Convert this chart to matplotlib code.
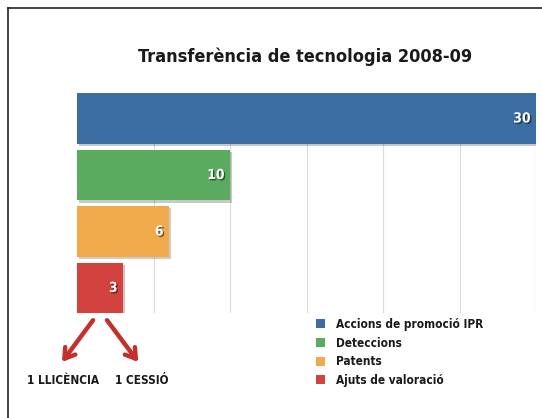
import numpy as np
import matplotlib
matplotlib.use("Agg")
import matplotlib.pyplot as plt
import matplotlib.patheffects as pe
from matplotlib.patches import Patch
from matplotlib.lines import Line2D

# Dades
categories = ["Accions de promoció IPR", "Deteccions", "Patents", "Ajuts de valoració"]
values = [30, 10, 6, 3]
colors = ["#3b6da3", "#5aab5f", "#f0aa4c", "#d2423f"]
title = "Transferència de tecnologia 2008-09"
sub_labels = ["1 LLICÈNCIA", "1 CESSIÓ"]

plt.rcParams["font.family"] = ["DejaVu Sans"]
plt.rcParams["font.stretch"] = "condensed"

W, H = 542, 418
fig = plt.figure(figsize=(W / 100, H / 100), dpi=100)
fig.patch.set_facecolor("white")

# eixos: 0 a x=77 px, 30 a x=536 px; barres de y=93 a y=313 px
ax = fig.add_axes([77 / W, 1 - 313.4 / H, (536 - 77) / W, (313.4 - 93.1) / H])
ax.set_xlim(0, 30)
ax.set_ylim(len(values) - 0.55, -0.45)
ax.set_facecolor("none")

y = np.arange(len(values))
bars = ax.barh(y, values, height=0.9, color=colors, zorder=3)
for b in bars:
    b.set_path_effects([pe.SimplePatchShadow(offset=(1.5, -1.5), alpha=0.25), pe.Normal()])

# graella vertical
for gx in range(5, 31, 5):
    ax.axvline(gx, color="#dadada", lw=0.8, zorder=1)

ax.set_xticks([])
ax.set_yticks([])
for s in ax.spines.values():
    s.set_visible(False)

# valors dins les barres
for yi, v in zip(y, values):
    ax.text(v - 0.35, yi, str(v), ha="right", va="center", color="white",
            fontsize=10, fontweight="bold", zorder=5,
            path_effects=[pe.withSimplePatchShadow(offset=(1, -1), shadow_rgbFace="black", alpha=0.5)])

# títol
fig.text(305 / W, 1 - 57 / H, title, ha="center", va="center",
         fontsize=13, fontweight="bold", color="#1a1a1a")

# fletxes des de la barra vermella
arrow_kw = dict(arrowstyle="->,head_length=0.7,head_width=0.45", color="#c4302b", lw=3.2,
                shrinkA=0, shrinkB=0)
ax.annotate("", xy=(-0.98, 4.31), xytext=(1.05, 3.57), arrowprops=arrow_kw,
            annotation_clip=False, zorder=4)
ax.annotate("", xy=(4.0, 4.31), xytext=(1.96, 3.57), arrowprops=arrow_kw,
            annotation_clip=False, zorder=4)

fig.text(63 / W, 1 - 381 / H, sub_labels[0], ha="center", va="center",
         fontsize=8.5, fontweight="bold", color="#1a1a1a")
fig.text(142 / W, 1 - 381 / H, sub_labels[1], ha="center", va="center",
         fontsize=8.5, fontweight="bold", color="#1a1a1a")

# llegenda
handles = [Patch(facecolor=c, edgecolor="none") for c in colors]
leg = fig.legend(handles, categories, loc="upper left",
                 bbox_to_anchor=(310 / W, 1 - 312 / H), frameon=False,
                 fontsize=8.5, handlelength=0.8, handleheight=0.8,
                 handletextpad=0.9, labelspacing=0.48, borderpad=0)
for t in leg.get_texts():
    t.set_fontweight("bold")
    t.set_color("#1a1a1a")

# marc (només vores superior i esquerra visibles)
fig.add_artist(Line2D([8 / W, 1.0], [1 - 8 / H, 1 - 8 / H], color="#222222", lw=1.2))
fig.add_artist(Line2D([8 / W, 8 / W], [0.0, 1 - 8 / H], color="#222222", lw=1.2))

fig.savefig("out.png", dpi=100)
